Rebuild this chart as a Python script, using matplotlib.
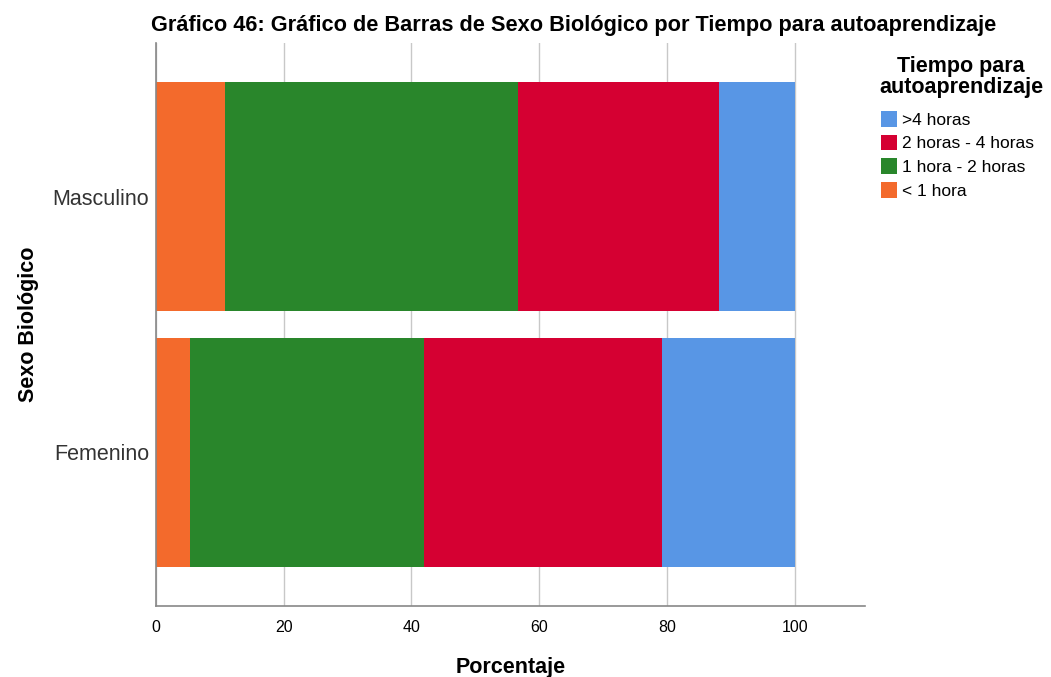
import numpy as np
import matplotlib.pyplot as plt
from matplotlib.patches import Patch

plt.rcParams['font.family'] = ['Liberation Sans', 'DejaVu Sans']

# Percentages per sex (order: Femenino, Masculino)
sexos = ['Femenino', 'Masculino']
categorias = ['< 1 hora', '1 hora - 2 horas', '2 horas - 4 horas', '>4 horas']
menos_1 = [5.4, 10.8]
de_1_a_2 = [36.5, 45.9]
de_2_a_4 = [37.4, 31.4]
mas_4 = [20.7, 11.9]
colores = ['#F36A2C', '#29862B', '#D50032', '#5896E5']

series = [menos_1, de_1_a_2, de_2_a_4, mas_4]

fig = plt.figure(figsize=(10.51, 6.77), dpi=100)
ax = fig.add_axes([0.1484, 0.1049, 0.6746, 0.8316])

y = np.arange(len(sexos))
left = np.zeros(len(sexos))
for valores, color, nombre in zip(series, colores, categorias):
    ax.barh(y, valores, left=left, height=0.895, color=color, label=nombre, zorder=2)
    left += np.array(valores)

ax.set_xlim(0, 111)
ax.set_ylim(-0.6, 1.6)
ax.set_xticks([0, 20, 40, 60, 80, 100])
ax.set_yticks(y)
ax.set_yticklabels(sexos, fontsize=15.5, color='#333333')
ax.tick_params(axis='x', labelsize=11.5, length=0, pad=10)
ax.tick_params(axis='y', length=0, pad=5)
ax.grid(axis='x', color='#c8c8c8', linewidth=1, zorder=0)

for lado in ['top', 'right']:
    ax.spines[lado].set_visible(False)
for lado in ['left', 'bottom']:
    ax.spines[lado].set_color('#888888')
    ax.spines[lado].set_linewidth(1.2)

ax.set_xlabel('Porcentaje', fontsize=15.5, fontweight='bold', labelpad=16)
ax.set_ylabel('Sexo Biológico', fontsize=15.5, fontweight='bold', labelpad=10)
fig.text(0.546, 0.963, 'Gráfico 46: Gráfico de Barras de Sexo Biológico por Tiempo para autoaprendizaje',
         ha='center', va='center', fontsize=15.7, fontweight='bold')

# Legend: centred bold title above the colour boxes
fig.text(0.9145, 0.887, 'Tiempo para\nautoaprendizaje', ha='center', va='center',
         fontsize=15.5, fontweight='bold', linespacing=1.0)
handles = [Patch(facecolor=c, label=n) for c, n in zip(colores, categorias)][::-1]
leg = fig.legend(handles=handles, loc='upper left', bbox_to_anchor=(0.838, 0.836),
                 frameon=False, fontsize=12.5,
                 handlelength=0.95, handleheight=1.0, handletextpad=0.3, labelspacing=0.4,
                 borderaxespad=0, borderpad=0)

fig.savefig('out.png', dpi=100)
